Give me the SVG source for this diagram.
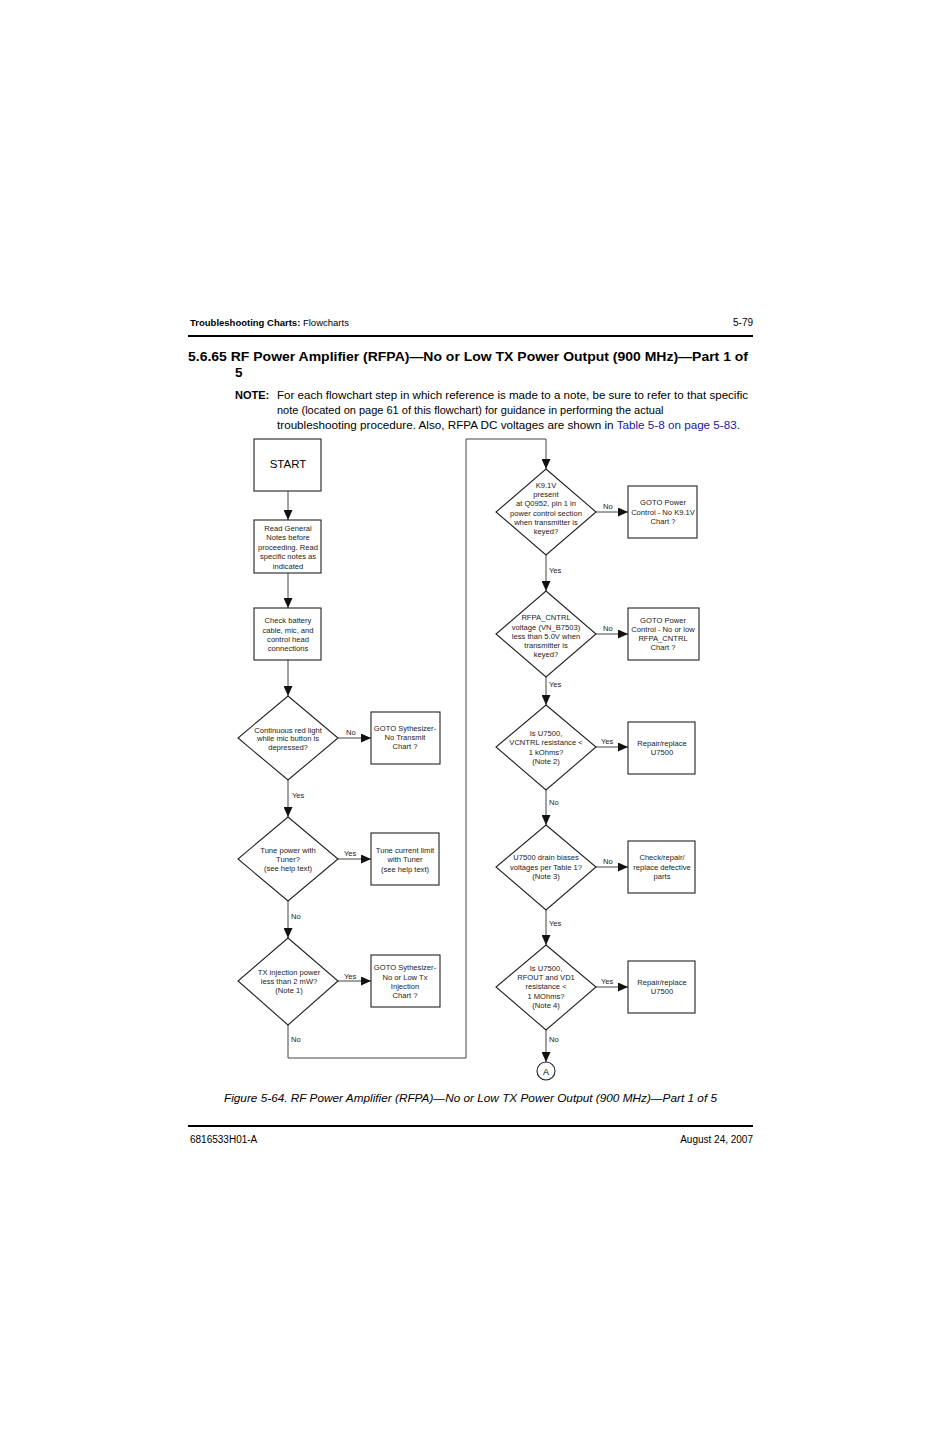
<svg xmlns="http://www.w3.org/2000/svg" width="926" height="1431" viewBox="0 0 926 1431">
<style>
.t{font-family:"Liberation Sans",Arial,sans-serif;fill:#000}
.n{font-family:"Liberation Sans",Arial,sans-serif;font-size:7.6px;fill:#222;text-anchor:middle}
.lb{font-family:"Liberation Sans",Arial,sans-serif;font-size:7.6px;fill:#222}
.box{fill:#fff;stroke:#222;stroke-width:1.1}
.c{fill:none;stroke:#444;stroke-width:1}
</style>
<defs>
<marker id="ah" markerUnits="userSpaceOnUse" markerWidth="10" markerHeight="9" refX="10" refY="4.5" orient="auto">
<path d="M0,0 L10,4.5 L0,9 z" fill="#111"/>
</marker>
</defs>
<rect width="926" height="1431" fill="#fff"/>

<g id="header">
<text class="t" x="190" y="326" font-size="9.5" font-weight="bold">Troubleshooting Charts: <tspan font-weight="normal">Flowcharts</tspan></text>
<text class="t" x="753" y="326" font-size="10" text-anchor="end">5-79</text>
<line x1="188" y1="336" x2="753" y2="336" stroke="#000" stroke-width="2"/>
<text class="t" x="188" y="361" font-size="13.5" font-weight="bold" textLength="560" lengthAdjust="spacingAndGlyphs">5.6.65  RF Power Amplifier (RFPA)—No or Low TX Power Output (900 MHz)—Part 1 of</text>
<text class="t" x="235" y="377" font-size="13.5" font-weight="bold">5</text>
<text class="t" x="235" y="399" font-size="11" font-weight="bold">NOTE:</text>
<text class="t" x="277" y="399" font-size="11" textLength="471" lengthAdjust="spacingAndGlyphs">For each flowchart step in which reference is made to a note, be sure to refer to that specific</text>
<text class="t" x="277" y="414" font-size="11">note (located on page 61 of this flowchart) for guidance in performing the actual</text>
<text class="t" x="277" y="429" font-size="11" textLength="463" lengthAdjust="spacingAndGlyphs">troubleshooting procedure. Also, RFPA DC voltages are shown in <tspan fill="#1a1a9c">Table 5-8 on page 5-83</tspan>.</text>
</g>

<g id="connectors">
<line class="c" x1="288" y1="491" x2="288" y2="520" marker-end="url(#ah)"/>
<line class="c" x1="288" y1="573" x2="288" y2="608" marker-end="url(#ah)"/>
<line class="c" x1="288" y1="660" x2="288" y2="696" marker-end="url(#ah)"/>
<line class="c" x1="338" y1="738" x2="371" y2="738" marker-end="url(#ah)"/>
<line class="c" x1="288" y1="780" x2="288" y2="817" marker-end="url(#ah)"/>
<line class="c" x1="338" y1="859" x2="371" y2="859" marker-end="url(#ah)"/>
<line class="c" x1="288" y1="901" x2="288" y2="938" marker-end="url(#ah)"/>
<line class="c" x1="338" y1="981" x2="371" y2="981" marker-end="url(#ah)"/>
<polyline class="c" points="288,1025 288,1058 466,1058 466,439 546,439 546,469" marker-end="url(#ah)"/>
<line class="c" x1="596" y1="512" x2="628" y2="512" marker-end="url(#ah)"/>
<line class="c" x1="546" y1="555" x2="546" y2="591" marker-end="url(#ah)"/>
<line class="c" x1="596" y1="634" x2="628" y2="634" marker-end="url(#ah)"/>
<line class="c" x1="546" y1="677" x2="546" y2="705" marker-end="url(#ah)"/>
<line class="c" x1="596" y1="747" x2="628" y2="747" marker-end="url(#ah)"/>
<line class="c" x1="546" y1="790" x2="546" y2="825" marker-end="url(#ah)"/>
<line class="c" x1="596" y1="867" x2="628" y2="867" marker-end="url(#ah)"/>
<line class="c" x1="546" y1="910" x2="546" y2="945" marker-end="url(#ah)"/>
<line class="c" x1="596" y1="987" x2="628" y2="987" marker-end="url(#ah)"/>
<line class="c" x1="546" y1="1030" x2="546" y2="1062" marker-end="url(#ah)"/>
<text class="lb" x="346" y="735">No</text>
<text class="lb" x="292" y="798">Yes</text>
<text class="lb" x="344" y="856">Yes</text>
<text class="lb" x="291" y="919">No</text>
<text class="lb" x="344" y="979">Yes</text>
<text class="lb" x="291" y="1042">No</text>
<text class="lb" x="603" y="509">No</text>
<text class="lb" x="549" y="573">Yes</text>
<text class="lb" x="603" y="631">No</text>
<text class="lb" x="549" y="687">Yes</text>
<text class="lb" x="601" y="744">Yes</text>
<text class="lb" x="549" y="805">No</text>
<text class="lb" x="603" y="864">No</text>
<text class="lb" x="549" y="926">Yes</text>
<text class="lb" x="601" y="984">Yes</text>
<text class="lb" x="549" y="1042">No</text>
</g>

<g id="start">
<rect class="box" x="254" y="439" width="67" height="52"/>
<text class="t" x="288" y="468" font-size="11.5" text-anchor="middle">START</text>
</g>
<g id="read-notes">
<rect class="box" x="254" y="520" width="67" height="53"/>
<text class="n" x="288" y="531">Read General</text>
<text class="n" x="288" y="540">Notes before</text>
<text class="n" x="288" y="550">proceeding. Read</text>
<text class="n" x="288" y="559">specific notes as</text>
<text class="n" x="288" y="569">indicated</text>
</g>
<g id="check-battery">
<rect class="box" x="254" y="608" width="67" height="52"/>
<text class="n" x="288" y="623">Check battery</text>
<text class="n" x="288" y="633">cable, mic, and</text>
<text class="n" x="288" y="642">control head</text>
<text class="n" x="288" y="651">connections</text>
</g>
<g id="red-light">
<polygon class="box" points="288,696 338,738 288,780 238,738"/>
<text class="n" x="288" y="733">Continuous red light</text>
<text class="n" x="288" y="741">while mic button is</text>
<text class="n" x="288" y="750">depressed?</text>
</g>
<g id="goto-no-transmit">
<rect class="box" x="371" y="712" width="69" height="52"/>
<text class="n" x="405" y="731">GOTO Sythesizer-</text>
<text class="n" x="405" y="740">No Transmit</text>
<text class="n" x="405" y="749">Chart ?</text>
</g>
<g id="tune-power">
<polygon class="box" points="288,817 338,859 288,901 238,859"/>
<text class="n" x="288" y="853">Tune power with</text>
<text class="n" x="288" y="862">Tuner?</text>
<text class="n" x="288" y="871">(see help text)</text>
</g>
<g id="tune-current">
<rect class="box" x="371" y="833" width="68" height="52"/>
<text class="n" x="405" y="853">Tune current limit</text>
<text class="n" x="405" y="862">with Tuner</text>
<text class="n" x="405" y="872">(see help text)</text>
</g>
<g id="tx-injection">
<polygon class="box" points="288,938 338,981 288,1025 238,981"/>
<text class="n" x="289" y="975">TX injection power</text>
<text class="n" x="289" y="984">less than 2 mW?</text>
<text class="n" x="289" y="993">(Note 1)</text>
</g>
<g id="goto-tx-injection">
<rect class="box" x="371" y="955" width="69" height="52"/>
<text class="n" x="405" y="970">GOTO Sythesizer-</text>
<text class="n" x="405" y="980">No or Low Tx</text>
<text class="n" x="405" y="989">Injection</text>
<text class="n" x="405" y="998">Chart ?</text>
</g>

<g id="k91v">
<polygon class="box" points="546,469 596,512 546,555 496,512"/>
<text class="n" x="546" y="488">K9.1V</text>
<text class="n" x="546" y="497">present</text>
<text class="n" x="546" y="506">at Q0952, pin 1 in</text>
<text class="n" x="546" y="516">power control section</text>
<text class="n" x="546" y="525">when transmitter is</text>
<text class="n" x="546" y="534">keyed?</text>
</g>
<g id="goto-k91v">
<rect class="box" x="628" y="486" width="69" height="52"/>
<text class="n" x="663" y="505">GOTO Power</text>
<text class="n" x="663" y="515">Control - No K9.1V</text>
<text class="n" x="663" y="524">Chart ?</text>
</g>
<g id="rfpa-cntrl">
<polygon class="box" points="546,591 596,634 546,677 496,634"/>
<text class="n" x="546" y="620">RFPA_CNTRL</text>
<text class="n" x="546" y="630">voltage (VN_B7503)</text>
<text class="n" x="546" y="639">less than 5.0V when</text>
<text class="n" x="546" y="648">transmitter is</text>
<text class="n" x="546" y="657">keyed?</text>
</g>
<g id="goto-rfpa-cntrl">
<rect class="box" x="628" y="608" width="71" height="52"/>
<text class="n" x="663" y="623">GOTO Power</text>
<text class="n" x="663" y="632">Control - No or low</text>
<text class="n" x="663" y="641">RFPA_CNTRL</text>
<text class="n" x="663" y="650">Chart ?</text>
</g>
<g id="vcntrl">
<polygon class="box" points="546,705 596,747 546,790 496,747"/>
<text class="n" x="546" y="736">Is U7500,</text>
<text class="n" x="546" y="745">VCNTRL resistance &lt;</text>
<text class="n" x="546" y="755">1 kOhms?</text>
<text class="n" x="546" y="764">(Note 2)</text>
</g>
<g id="repair-1">
<rect class="box" x="628" y="722" width="67" height="52"/>
<text class="n" x="662" y="746">Repair/replace</text>
<text class="n" x="662" y="755">U7500</text>
</g>
<g id="drain-bias">
<polygon class="box" points="546,825 596,867 546,910 496,867"/>
<text class="n" x="546" y="860">U7500 drain biases</text>
<text class="n" x="546" y="870">voltages per Table 1?</text>
<text class="n" x="546" y="879">(Note 3)</text>
</g>
<g id="check-repair">
<rect class="box" x="628" y="841" width="67" height="52"/>
<text class="n" x="662" y="860">Check/repair/</text>
<text class="n" x="662" y="870">replace defective</text>
<text class="n" x="662" y="879">parts</text>
</g>
<g id="rfout">
<polygon class="box" points="546,945 596,987 546,1030 496,987"/>
<text class="n" x="546" y="971">Is U7500,</text>
<text class="n" x="546" y="980">RFOUT and VD1</text>
<text class="n" x="546" y="989">resistance &lt;</text>
<text class="n" x="546" y="999">1 MOhms?</text>
<text class="n" x="546" y="1008">(Note 4)</text>
</g>
<g id="repair-2">
<rect class="box" x="628" y="961" width="67" height="52"/>
<text class="n" x="662" y="985">Repair/replace</text>
<text class="n" x="662" y="994">U7500</text>
</g>
<g id="connector-a">
<circle class="box" cx="546" cy="1071" r="9"/>
<text class="t" x="546" y="1075" font-size="9" text-anchor="middle">A</text>
</g>

<g id="footer">
<text class="t" x="224" y="1102" font-size="11.8" font-style="italic" textLength="493" lengthAdjust="spacingAndGlyphs">Figure 5-64.  RF Power Amplifier (RFPA)—No or Low TX Power Output (900 MHz)—Part 1 of 5</text>
<line x1="188" y1="1126" x2="753" y2="1126" stroke="#000" stroke-width="2"/>
<text class="t" x="190" y="1143" font-size="10">6816533H01-A</text>
<text class="t" x="753" y="1143" font-size="10" text-anchor="end">August 24, 2007</text>
</g>
</svg>
